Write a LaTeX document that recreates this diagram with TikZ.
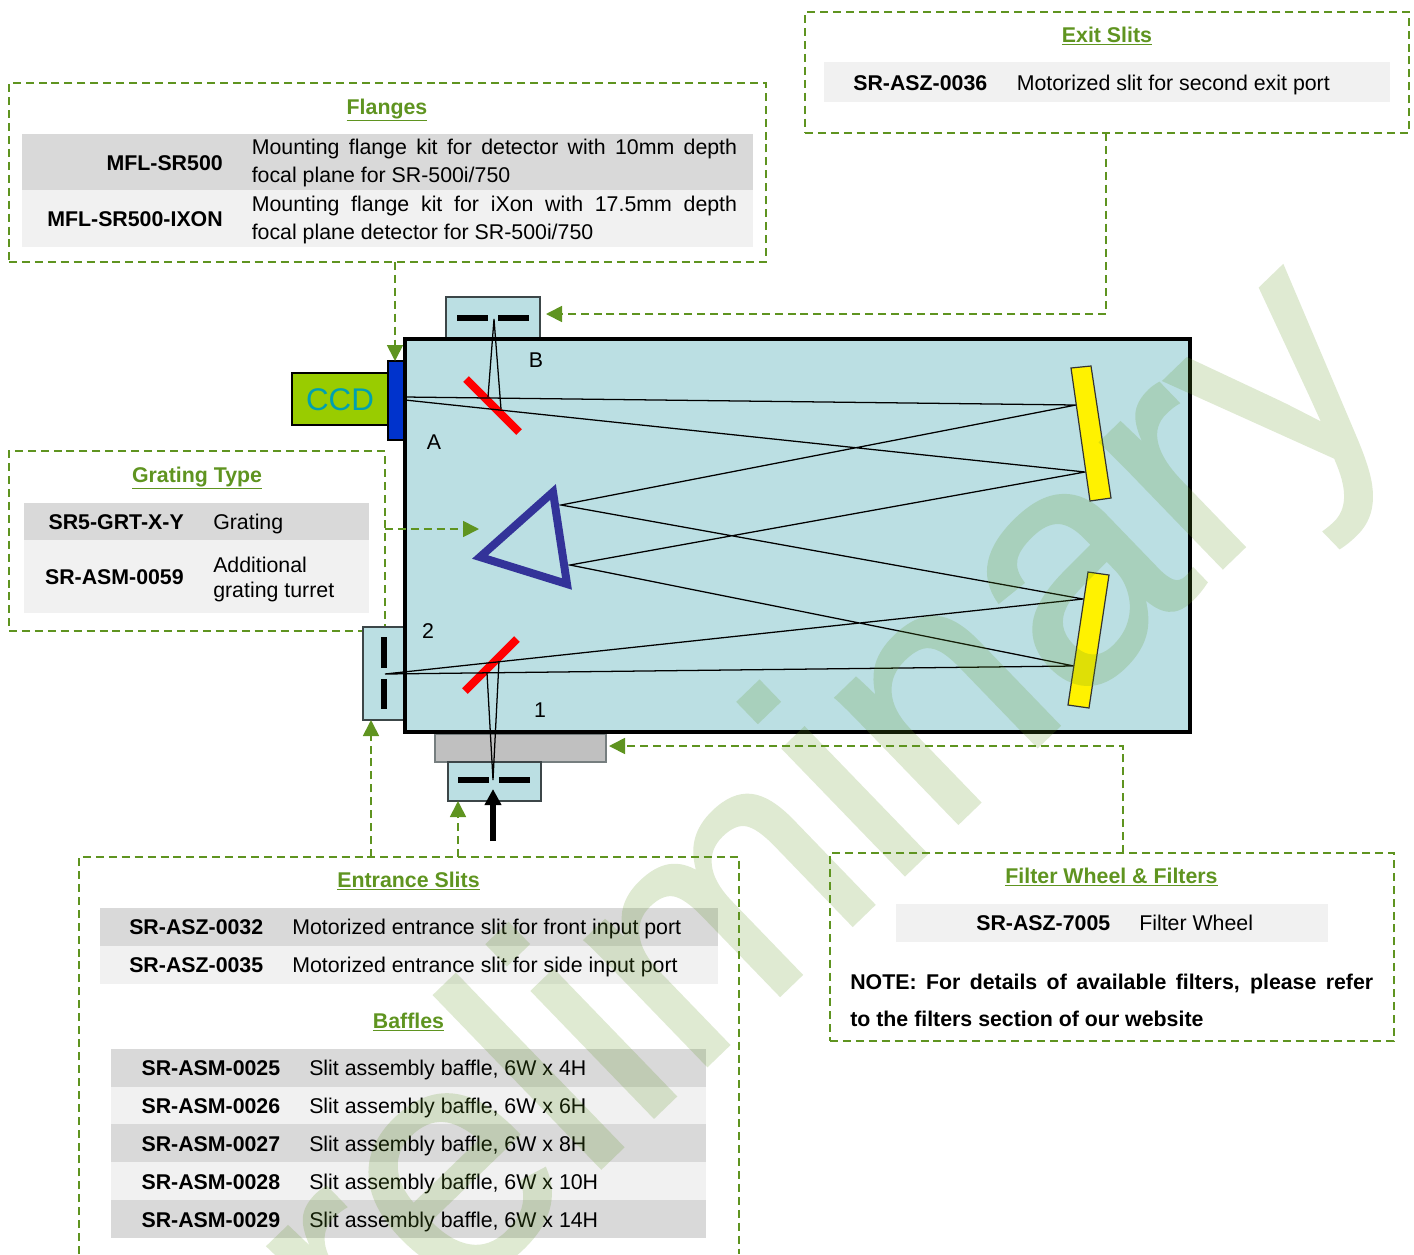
\documentclass[tikz,border=0pt]{standalone}
\usepackage{fontspec}
\setmainfont{Liberation Sans}
\newfontfamily\wmfont[FakeBold=1.0]{Liberation Sans}
\usetikzlibrary{arrows.meta}
\definecolor{dgreen}{RGB}{95,148,32}
\definecolor{rowdark}{RGB}{217,217,217}
\definecolor{rowlight}{RGB}{241,241,241}
\definecolor{paleblue}{RGB}{187,223,227}
\definecolor{ccdgreen}{RGB}{153,204,0}
\definecolor{ccdtext}{RGB}{0,160,176}
\definecolor{flangeblue}{RGB}{0,51,204}
\definecolor{gratingblue}{RGB}{51,51,153}
\definecolor{slitedge}{RGB}{60,70,72}
\newcommand{\pxbox}[6]{\node[#2,anchor=north west,inner sep=0pt,outer sep=0pt,minimum width={(#5-#3)*0.75pt},minimum height={(#6-#4)*0.75pt}] (#1) at (#3,#4) {};}
\newcommand{\bodyfont}{\fontsize{16}{19}\selectfont}
\tikzset{
  dashbox/.style={draw=dgreen,line width=1.3pt,dash pattern=on 6pt off 3.7pt},
  conn/.style={draw=dgreen,line width=1.3pt,dash pattern=on 6pt off 3.7pt,-{Triangle[length=12pt,width=12pt,fill=dgreen]}},
  rowd/.style={fill=rowdark},
  rowl/.style={fill=rowlight},
  title/.style={anchor=base,inner sep=0pt,text=dgreen,font=\bodyfont\bfseries},
  code/.style={anchor=base east,inner sep=0pt,font=\bodyfont\bfseries},
  desc/.style={anchor=base west,inner sep=0pt,font=\bodyfont},
  note/.style={anchor=base west,inner sep=0pt,font=\bodyfont\bfseries},
  lab/.style={anchor=center,inner sep=0pt,font=\bodyfont},
  slitbox/.style={fill=paleblue,draw=slitedge,line width=1.1pt},
  bar/.style={draw=black,line width=3.8pt},
  redm/.style={draw=red,line width=6pt},
  ray/.style={draw=black,line width=0.95pt},
  mirror/.style={fill=yellow,draw=black!80,line width=0.9pt},
}
\begin{document}
\begin{tikzpicture}[x=0.75pt,y=-0.75pt]
\useasboundingbox (0,0) rectangle (1414,1254);
% dashed panels
\pxbox{exit}{dashbox}{805}{12}{1409}{133}
\pxbox{flanges}{dashbox}{9}{83}{766}{262}
\pxbox{grating}{dashbox}{9}{451}{385}{631}
\pxbox{filter}{dashbox}{830}{853}{1394}{1041}
\coordinate (entBL) at (79,1254);
\coordinate (entTL) at (79,857);
\coordinate (entTR) at (739,857);
\coordinate (entBR) at (739,1254);
\draw[dashbox] (entBL) -- (entTL) -- (entTR) -- (entBR);
% table rows
\pxbox{r1}{rowl}{824}{62}{1390}{102}
\pxbox{r2}{rowd}{22}{134}{753}{190}
\pxbox{r3}{rowl}{22}{190}{753}{247}
\pxbox{r4}{rowd}{24}{503}{369}{540}
\pxbox{r5}{rowl}{24}{540}{369}{613}
\pxbox{r6}{rowd}{100}{908}{718}{946}
\pxbox{r7}{rowl}{100}{946}{718}{984}
\pxbox{r8}{rowd}{111}{1049}{706}{1087}
\pxbox{r9}{rowl}{111}{1087}{706}{1124}
\pxbox{r10}{rowd}{111}{1124}{706}{1162}
\pxbox{r11}{rowl}{111}{1162}{706}{1200}
\pxbox{r12}{rowd}{111}{1200}{706}{1238}
\pxbox{r13}{rowl}{896}{904}{1328}{942}
% titles
\node[title] (t1) at (1107,42) {\underline{Exit Slits}};
\node[title] (t2) at (387,114) {\underline{Flanges}};
\node[title] (t3) at (197,482) {\underline{Grating Type}};
\node[title] (t4) at (408.5,887) {\underline{Entrance Slits}};
\node[title] (t5) at (408.5,1028) {\underline{Baffles}};
\node[title] (t6) at (1111.5,883) {\underline{Filter Wheel \& Filters}};
% exit slit table
\node[code] (c1) at (987.5,90.5) {SR-ASZ-0036};
\node[desc] (d1) at (1016.5,90.5) {Motorized slit for second exit port};
% flanges table
\node[code] (c2) at (223,170.5) {MFL-SR500};
\node[desc] (d2a) at (251.5,154.5) {\makebox[364pt][s]{Mounting flange kit for detector with 10mm depth}};
\node[desc] (d2b) at (251.5,182.5) {focal plane for SR-500i/750};
\node[code] (c3) at (223,226.5) {MFL-SR500-IXON};
\node[desc] (d3a) at (251.5,211) {\makebox[364pt][s]{Mounting flange kit for iXon with 17.5mm depth}};
\node[desc] (d3b) at (251.5,239) {focal plane detector for SR-500i/750};
% grating table
\node[code] (c4) at (184,529.5) {SR5-GRT-X-Y};
\node[desc] (d4) at (213,529.5) {Grating};
\node[code] (c5) at (184,584.5) {SR-ASM-0059};
\node[desc] (d5a) at (213,572) {Additional};
\node[desc] (d5b) at (213,597) {grating turret};
% entrance table
\node[code] (c6) at (263.5,934.5) {SR-ASZ-0032};
\node[desc] (d6) at (292,934.5) {Motorized entrance slit for front input port};
\node[code] (c7) at (263.5,972.5) {SR-ASZ-0035};
\node[desc] (d7) at (292,972.5) {Motorized entrance slit for side input port};
% baffles table
\node[code] (c8) at (280.5,1075.5) {SR-ASM-0025};
\node[desc] (d8) at (309,1075.5) {Slit assembly baffle, 6W x 4H};
\node[code] (c9) at (280.5,1113.5) {SR-ASM-0026};
\node[desc] (d9) at (309,1113.5) {Slit assembly baffle, 6W x 6H};
\node[code] (c10) at (280.5,1151.5) {SR-ASM-0027};
\node[desc] (d10) at (309,1151.5) {Slit assembly baffle, 6W x 8H};
\node[code] (c11) at (280.5,1189.5) {SR-ASM-0028};
\node[desc] (d11) at (309,1189.5) {Slit assembly baffle, 6W x 10H};
\node[code] (c12) at (280.5,1227.5) {SR-ASM-0029};
\node[desc] (d12) at (309,1227.5) {Slit assembly baffle, 6W x 14H};
% filter table
\node[code] (c13) at (1110.5,930.5) {SR-ASZ-7005};
\node[desc] (d13) at (1139,930.5) {Filter Wheel};
\node[note] (n1) at (850,989.5) {\makebox[392.25pt][s]{NOTE: For details of available filters, please refer}};
\node[note] (n2) at (850,1026) {to the filters section of our website};
% spectrograph body
\pxbox{portB}{slitbox}{446}{297}{540}{339}
\pxbox{portSide}{slitbox}{363}{627}{405}{720}
\pxbox{filterwheel}{fill={rgb,255:red,192;green,192;blue,192},draw=slitedge!70,line width=0.8pt}{435}{734}{606}{762}
\pxbox{portFront}{slitbox}{448}{762}{541}{801}
\pxbox{body}{fill=paleblue,draw=black,line width=3pt}{405}{339}{1190}{732}
\pxbox{ccd}{fill=ccdgreen,draw=black,line width=1pt}{292}{373}{388}{425}
\pxbox{flange}{fill=flangeblue,draw=black,line width=1pt}{388}{361}{404}{440}
\node[anchor=center,inner sep=0pt,text=ccdtext,font=\fontsize{23.5}{26}\selectfont] (ccdlabel) at (340,399.5) {CCD};
% mirrors
\coordinate (m1a) at (1076,405); \coordinate (m1b) at (1085,472);
\coordinate (m2a) at (1083,599); \coordinate (m2b) at (1074,666);
\coordinate (g1) at (561,505); \coordinate (g2) at (570,565);
\coordinate (ccd1) at (405,397); \coordinate (ccd2) at (405,400);
\coordinate (sideslit) at (385,674);
\coordinate (topslit) at (494,319);
\coordinate (frontslit) at (493,780);
\coordinate (rt1) at (488,397); \coordinate (rt2) at (501,409);
\coordinate (rb1) at (487,673); \coordinate (rb2) at (499,661);
% flat mirrors
\coordinate (fm1a) at (466,379); \coordinate (fm1b) at (519,432);
\coordinate (fm2a) at (465,691); \coordinate (fm2b) at (517,639);
\draw[redm] (fm1a) -- (fm1b);
\draw[redm] (fm2a) -- (fm2b);
% rays
\draw[ray] (ccd1) -- (m1a) -- (g1) -- (m2a) -- (sideslit) -- (m2b) -- (g2) -- (m1b) -- (ccd2);
\draw[ray] (rt1) -- (topslit) -- (rt2);
\draw[ray] (rb1) -- (frontslit) -- (rb2);
\draw[mirror] (1071,368) -- (1091,366) -- (1111,498) -- (1090,501) -- cycle;
\draw[mirror] (1088,572) -- (1109,575) -- (1089,708) -- (1068,705) -- cycle;
% grating
\draw[draw=gratingblue,line width=6pt,line join=miter] (553,492) -- (480,557) -- (567,584) -- cycle;
% slits
\draw[bar] (457,318) -- (488,318); \draw[bar] (498,318) -- (529,318);
\draw[bar] (384,637) -- (384,668); \draw[bar] (384,679) -- (384,709);
\draw[bar] (458,780) -- (489,780); \draw[bar] (499,780) -- (530,780);
% input arrow
\coordinate (inTail) at (493,841);
\coordinate (inTip) at (493,789);
\draw[draw=black,line width=4pt,-{Triangle[length=12pt,width=12pt]}] (inTail) -- (inTip);
% labels
\node[lab] (lB) at (536,360) {B};
\node[lab] (lA) at (434,442) {A};
\node[lab] (l2) at (428,631) {2};
\node[lab] (l1) at (540,710) {1};
% connectors
\coordinate (fromFlanges) at (395,262);
\coordinate (tipFlanges) at (395,361);
\coordinate (tipExit) at (546,314);
\coordinate (fromExit) at (1106,133);
\coordinate (fromGrating) at (385,529);
\coordinate (tipGrating) at (479,529);
\coordinate (fromEnt1) at (371,857);
\coordinate (tipEnt1) at (371,720);
\coordinate (fromEnt2) at (458,857);
\coordinate (tipEnt2) at (458,801);
\coordinate (fromFilter) at (1123,853);
\coordinate (tipFilter) at (609,746);
\draw[conn] (fromFlanges) -- (tipFlanges);
\draw[conn] (fromExit) |- (tipExit);
\draw[conn] (fromGrating) -- (tipGrating);
\draw[conn] (fromEnt1) -- (tipEnt1);
\draw[conn] (fromEnt2) -- (tipEnt2);
\draw[conn] (fromFilter) |- (tipFilter);
% watermark
\begin{scope}[transparency group,opacity=0.2]
\clip (0,0) rectangle (1414,1254);
\node[anchor=base,inner sep=0pt,rotate=44,text=dgreen,font=\wmfont\fontsize{248}{250}\selectfont] (wm) at (810,966) {Preliminary};
\end{scope}
\end{tikzpicture}
\end{document}
